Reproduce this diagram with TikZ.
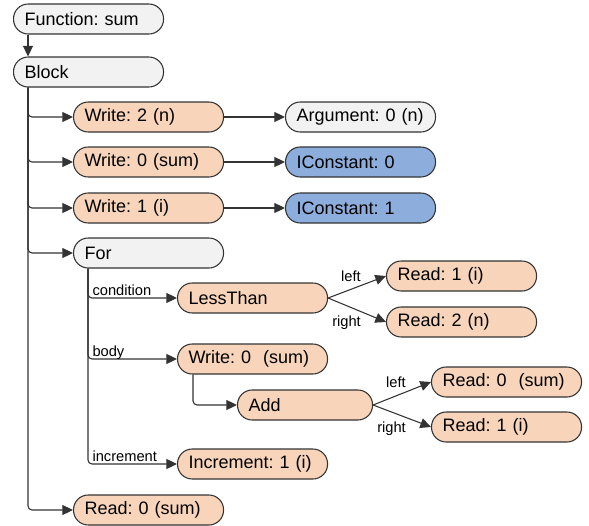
\documentclass[tikz,border=0pt]{standalone}
\usepackage{fontspec}
\setmainfont{Liberation Sans}
\frenchspacing
\usepackage{tikz}
\usetikzlibrary{calc,
                arrows.meta
                }

\definecolor{rand}{HTML}{333333}
\definecolor{hellgrau}{HTML}{F1F2F1}
\definecolor{pfirsich}{HTML}{F8D5BA}
\definecolor{hellblau}{HTML}{8DAEDC}

\begin{document}
\begin{tikzpicture}[x=0.75pt, y=-0.75pt,
    knoten/.style={draw=rand, line width=0.8pt, rounded corners=11pt,
        anchor=west, minimum height=22.5pt, text width=96pt,
        inner xsep=8.25pt, inner ysep=0pt,
        font=\fontsize{13.5}{15}\selectfont},
    grau/.style={fill=hellgrau},
    orange/.style={fill=pfirsich},
    blau/.style={fill=hellblau},
    pfeil/.style={draw=rand, line width=0.8pt,
        -{Triangle[length=8pt, width=7.5pt]}},
    zweig/.style={anchor=base west, xshift=3pt, yshift=2pt, inner sep=0pt,
        font=\fontsize{11}{13}\selectfont},
    seite/.style={inner sep=2pt, font=\fontsize{11}{13}\selectfont}
    ]
    \useasboundingbox (0,0) rectangle (589,525);

    % Funktion und Block
    \node[knoten, grau] (F) at (13,19) {Function: sum};
    \node[knoten, grau] (B) at (13,72) {Block};

    % Anweisungen im Block
    \node[knoten, orange] (W2) at (73,117) {Write: 2 (n)};
    \node[knoten, grau] (Arg) at (285,117) {Argument: 0 (n)};
    \node[knoten, orange] (Ws) at (73,162) {Write: 0 (sum)};
    \node[knoten, blau] (C0) at (285,162) {IConstant: 0};
    \node[knoten, orange] (Wi) at (73,208) {Write: 1 (i)};
    \node[knoten, blau] (C1) at (285,208) {IConstant: 1};
    \node[knoten, grau] (For) at (73,253) {For};
    \node[knoten, orange] (Rs) at (73,510) {Read: 0 (sum)};

    % Bedingung der Schleife
    \node[knoten, orange] (LT) at (177,298) {LessThan};
    \node[knoten, orange] (Ri) at (386,276) {Read: 1 (i)};
    \node[knoten, orange] (Rn) at (386,322) {Read: 2 (n)};

    % Rumpf der Schleife
    \node[knoten, orange] (Wb) at (177,359) {Write: 0\ \ (sum)};
    \node[knoten, orange, text width=84.75pt] (Add) at (237,405) {Add};
    \node[knoten, orange] (Rs2) at (431,382) {Read: 0\ \ (sum)};
    \node[knoten, orange] (Ri2) at (431,427) {Read: 1 (i)};

    % Inkrement
    \node[knoten, orange] (Inc) at (177,464) {Increment: 1 (i)};

    % Verbindungen
    \draw[pfeil] ($(F.south west)+(15,0)$) -- ($(B.north west)+(15,0)$);
    \foreach \z in {W2,Ws,Wi,For,Rs}
        \draw[pfeil, rounded corners=3pt] ($(B.south west)+(15,0)$) |- (\z.west);
    \draw[pfeil] (W2) -- (Arg);
    \draw[pfeil] (Ws) -- (C0);
    \draw[pfeil] (Wi) -- (C1);

    % Zweige der Schleife
    \draw[pfeil, rounded corners=3pt] ($(For.south west)+(15,0)$) |-
        node[zweig, pos=0.5] {condition} (LT.west);
    \draw[pfeil, rounded corners=3pt] ($(For.south west)+(15,0)$) |-
        node[zweig, pos=0.5] {body} (Wb.west);
    \draw[pfeil, rounded corners=3pt] ($(For.south west)+(15,0)$) |-
        node[zweig, pos=0.5] {increment} (Inc.west);
    \draw[pfeil, rounded corners=3pt] ($(Wb.south west)+(16,0)$) |- (Add.west);

    % Operanden
    \draw[pfeil] (LT.east) -- node[seite, pos=0.62, above left] {left} (Ri.west);
    \draw[pfeil] (LT.east) -- node[seite, pos=0.62, below left] {right} (Rn.west);
    \draw[pfeil] (Add.east) -- node[seite, pos=0.62, above left] {left} (Rs2.west);
    \draw[pfeil] (Add.east) -- node[seite, pos=0.62, below left] {right} (Ri2.west);
\end{tikzpicture}
\end{document}
